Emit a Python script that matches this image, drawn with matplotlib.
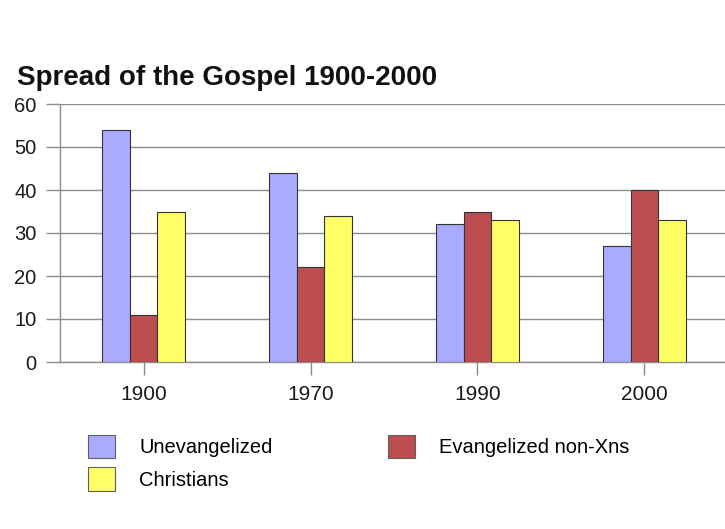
import matplotlib
matplotlib.use('Agg')
import matplotlib.pyplot as plt
import matplotlib.patches as mpatches
import numpy as np

plt.rcParams['font.family'] = ['Liberation Sans', 'DejaVu Sans']

# share of world population (%) for each year
years = ['1900', '1970', '1990', '2000']
unevangelized = [54, 44, 32, 27]
evangelized_non_xns = [11, 22, 35, 40]
christians = [35, 34, 33, 33]

series = [
    ('Unevangelized', unevangelized, '#aaaaff'),
    ('Evangelized non-Xns', evangelized_non_xns, '#bd4e50'),
    ('Christians', christians, '#ffff66'),
]

W, H = 725, 529
fig = plt.figure(figsize=(W / 100, H / 100), dpi=100)
ax = fig.add_axes([60 / W, (H - 362) / H, (728 - 60) / W, 258 / H])

x = np.arange(len(years))
width = 0.167
handles = {}
for i, (name, vals, col) in enumerate(series):
    ax.bar(x + (i - 1) * width, vals, width, color=col,
           edgecolor='#333333', linewidth=0.8, zorder=3, label=name)
    handles[name] = mpatches.Patch(facecolor=col, edgecolor='#606060', linewidth=0.8)

ax.set_xlim(-0.5, 3.5)
ax.set_ylim(0, 60)
ax.set_yticks(range(0, 61, 10))
ax.set_xticks(x, years)

ax.grid(axis='y', color='#8c8c8c', linewidth=1, zorder=0)
for side in ['top', 'right']:
    ax.spines[side].set_visible(False)
for side in ['left', 'bottom']:
    ax.spines[side].set_color('#8c8c8c')
    ax.spines[side].set_linewidth(1)

ax.tick_params(axis='y', length=10, width=1, color='#8c8c8c', pad=7,
               labelsize=14.5, labelcolor='#1a1a1a')
ax.tick_params(axis='x', length=9.5, width=1, color='#8c8c8c', pad=7,
               labelsize=15, labelcolor='#1a1a1a')

fig.text(17 / W, 1 - 85 / H, 'Spread of the Gospel 1900-2000',
         fontsize=20, fontweight='bold', va='baseline', ha='left', color='#111111')

order = ['Unevangelized', 'Christians', 'Evangelized non-Xns']
fig.legend([handles[n] for n in order], order, ncol=2, loc='upper left',
           bbox_to_anchor=(88 / W, 1 - 435 / H), frameon=False,
           fontsize=14.5, borderpad=0, borderaxespad=0,
           handlelength=1.35, handleheight=1.4, handletextpad=1.2,
           labelspacing=0.45, columnspacing=5.7)

fig.savefig('out.png', dpi=100)
